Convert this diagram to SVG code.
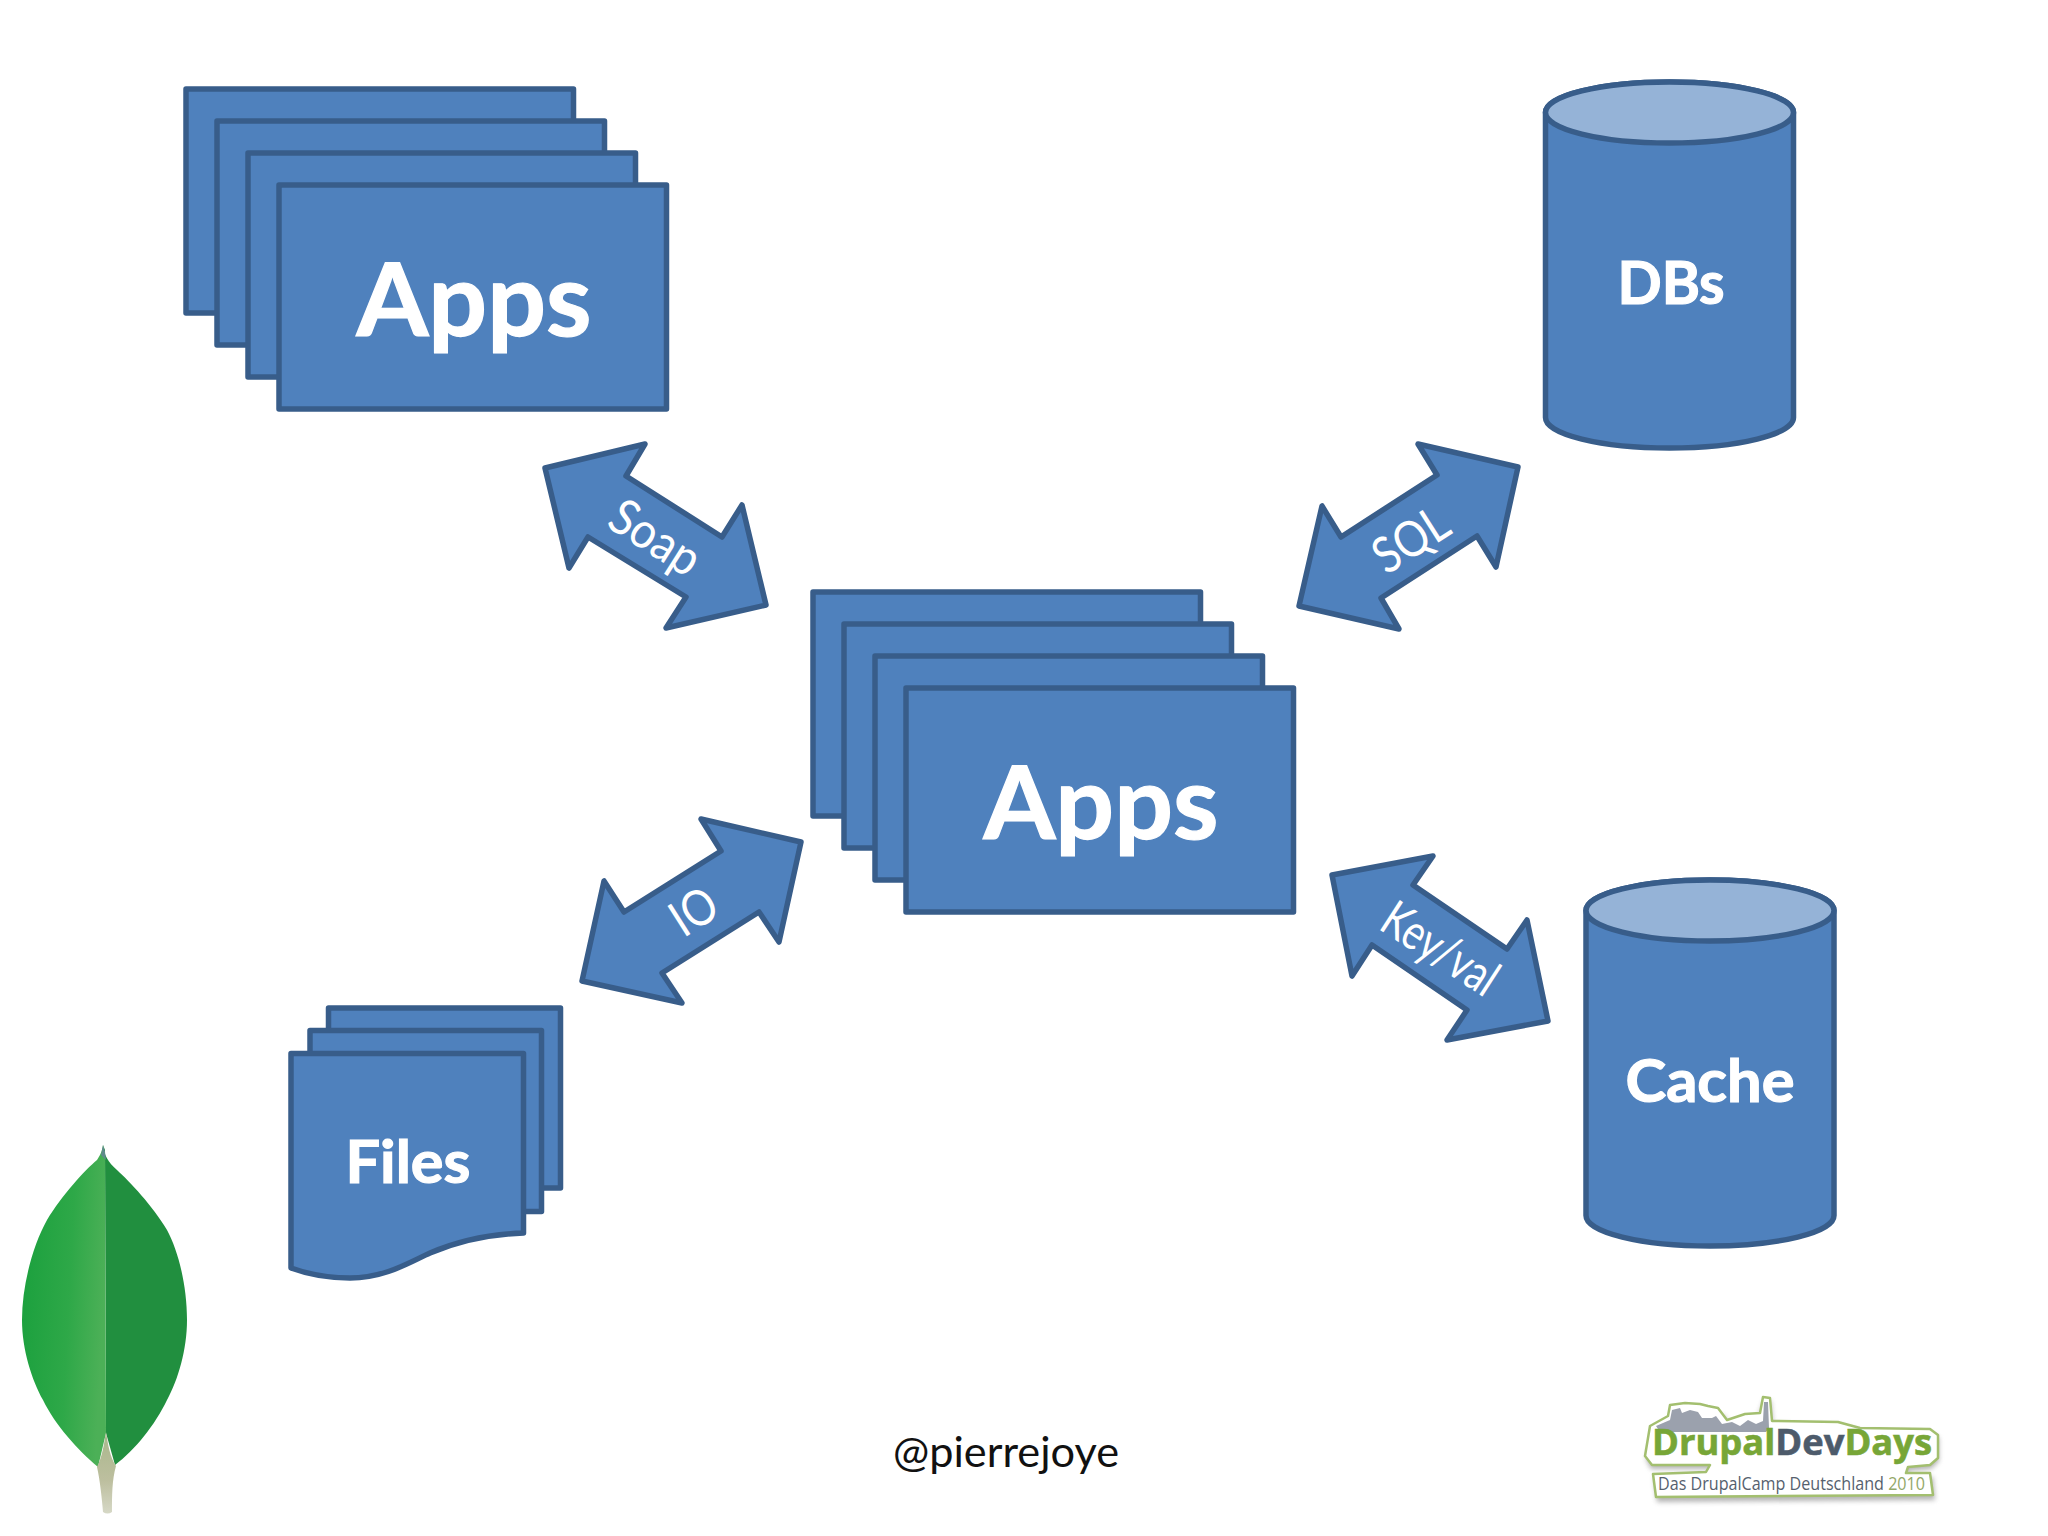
<svg xmlns="http://www.w3.org/2000/svg" width="2048" height="1536" viewBox="0 0 2048 1536">
<style>
.s{fill:#4f81bd;stroke:#385d8a;stroke-width:5.5;stroke-linejoin:round}
.top{fill:#95b3d7;stroke:#385d8a;stroke-width:5.5}
.t{font-family:"Lato","Open Sans",sans-serif;fill:#fff;text-anchor:middle}
.b{font-weight:700;stroke:#fff;stroke-width:1.2}
.big{font-size:101px}
.mid{font-size:60px}
.lab{font-size:50px;font-weight:400}
.lg{font-family:"Open Sans","Noto Sans",sans-serif;font-weight:700;font-size:36px;stroke-width:0.6}
.ls{font-family:"Open Sans","Noto Sans",sans-serif;font-size:17.5px}
</style>
<defs>
<linearGradient id="leafL" x1="0" y1="0.15" x2="1" y2="0.35"><stop offset="0" stop-color="#1aa03d"/><stop offset="0.6" stop-color="#2ea848"/><stop offset="1" stop-color="#4cb057"/></linearGradient>
<linearGradient id="stem" x1="0" y1="0" x2="0" y2="1"><stop offset="0" stop-color="#a9b78b"/><stop offset="0.6" stop-color="#bdbf9f"/><stop offset="1" stop-color="#d6d8c6"/></linearGradient>
<filter id="blur" x="-10%" y="-20%" width="120%" height="140%"><feGaussianBlur stdDeviation="2.5"/></filter>
</defs>
<rect width="2048" height="1536" fill="#fff"/>

<g id="apps-top">
<rect class="s" x="186" y="89" width="387.5" height="224"/>
<rect class="s" x="217" y="121" width="387.5" height="224"/>
<rect class="s" x="248" y="153" width="387.5" height="224"/>
<rect class="s" x="279" y="185" width="387.5" height="224"/>
<text class="t b big" x="474" y="336" textLength="235" lengthAdjust="spacingAndGlyphs">Apps</text>
</g>

<g id="apps-center">
<rect class="s" x="813" y="592" width="387.5" height="224"/>
<rect class="s" x="844" y="624" width="387.5" height="224"/>
<rect class="s" x="875" y="656" width="387.5" height="224"/>
<rect class="s" x="906" y="688" width="387.5" height="224"/>
<text class="t b big" x="1101" y="839" textLength="235" lengthAdjust="spacingAndGlyphs">Apps</text>
</g>

<g id="dbs">
<path class="s" d="M1545.5 112.5A124 30.5 0 0 1 1793.5 112.5V417.5A124 30.5 0 0 1 1545.5 417.5Z"/>
<ellipse class="top" cx="1669.5" cy="112.5" rx="124" ry="30.5"/>
<text class="t b mid" x="1671" y="304" textLength="107" lengthAdjust="spacingAndGlyphs">DBs</text>
</g>

<g id="cache">
<path class="s" d="M1586 910.5A124 30.5 0 0 1 1834 910.5V1215.5A124 30.5 0 0 1 1586 1215.5Z"/>
<ellipse class="top" cx="1710" cy="910.5" rx="124" ry="30.5"/>
<text class="t b mid" x="1710" y="1102" textLength="169" lengthAdjust="spacingAndGlyphs">Cache</text>
</g>

<g id="files">
<rect class="s" x="328.5" y="1008" width="232" height="180"/>
<rect class="s" x="310" y="1030.5" width="231.5" height="181"/>
<path class="s" d="M291 1053.5H523.5V1233C495 1234 465 1238 430 1253C410 1262 385 1278 350 1278C330 1278 310 1275 291 1268Z"/>
<text class="t b mid" x="408" y="1183" textLength="125" lengthAdjust="spacingAndGlyphs">Files</text>
</g>

<g id="connectors">
<g id="soap">
<polygon class="s" points="545,468 645,444 626,476 722,537 742,505 766,605 666,628 686,597 588,537 569,568"/>
<text class="t lab" transform="translate(646 552) rotate(32.5)" textLength="98" lengthAdjust="spacingAndGlyphs">Soap</text>
</g>
<g id="sql">
<polygon class="s" points="1518,467 1418,444 1437,475 1341,537 1322,506 1299,606 1399,629 1381,598 1477,536 1496,567"/>
<text class="t lab" transform="translate(1420 554) rotate(-32.5)" textLength="80" lengthAdjust="spacingAndGlyphs">SQL</text>
</g>
<g id="io">
<polygon class="s" points="801,842 701,819 721,851 624,912 604,881 582,981 682,1003 662,973 759,912 779,942"/>
<text class="t lab" transform="translate(703 926) rotate(-32.5)" textLength="46" lengthAdjust="spacingAndGlyphs">IO</text>
</g>
<g id="keyval">
<polygon class="s" points="1332,875 1433,856 1413,885 1507,949 1527,920 1548,1021 1447,1040 1467,1010 1372,945 1352,976"/>
<text class="t lab" transform="translate(1431 963) rotate(33)" textLength="128" lengthAdjust="spacingAndGlyphs">Key/val</text>
</g>
</g>

<text id="credit" x="1006" y="1467" text-anchor="middle" font-family="Lato,'Open Sans',sans-serif" font-size="43" fill="#111" textLength="226" lengthAdjust="spacingAndGlyphs">@pierrejoye</text>

<g id="leaf">
<path d="M103 1145C104 1155 108 1162 117 1170C130 1182 152 1205 167 1230C178 1250 187 1285 187 1320C187 1350 178 1380 167 1400C155 1425 135 1450 115 1465L106 1433L105 1150Z" fill="#218f3f"/>
<path d="M103 1145C102 1152 100 1155 97 1160C85 1170 62 1195 47 1220C33 1245 22 1285 22 1320C22 1350 32 1380 43 1400C55 1425 78 1450 98 1467L106 1433L105 1157Z" fill="url(#leafL)"/>
<path d="M103 1145L101 1155L106 1160L105 1152Z" fill="#5f8a8c"/>
<path d="M106 1432C104 1445 102 1457 97 1467C100 1480 102 1500 103 1512C106 1514 109 1514 112 1512C112 1495 112 1480 116 1466C110 1457 108 1445 106 1432Z" fill="url(#stem)"/>
</g>

<g id="logo">
<path d="M1650 1440L1668 1420L1672 1412L1684 1407L1700 1408L1708 1412L1722 1412L1730 1422L1745 1416L1757 1414L1763 1397L1770 1398L1772 1421L1838 1422L1860 1428L1930 1430L1938 1435L1938 1458L1930 1466L1908 1468L1906 1474L1932 1474L1934 1497L1656 1499L1653 1474L1706 1472L1710 1466L1650 1466L1645 1456Z" fill="#777" opacity="0.55" filter="url(#blur)" transform="translate(1 3)"/>
<path d="M1650 1426L1668 1416L1670 1405L1685 1403L1700 1404L1708 1406L1718 1408L1727 1420L1745 1414L1760 1413L1763 1397L1770 1398L1772 1421L1838 1422L1860 1428L1930 1429L1938 1435L1938 1458L1930 1465L1908 1467L1906 1473L1930 1473L1933 1495L1656 1497L1653 1474L1706 1472L1710 1465L1652 1465L1645 1456Z" fill="#fff" stroke="#a3bf6f" stroke-width="2.5" stroke-linejoin="round"/>
<path d="M1656 1426L1670 1420L1672 1410L1680 1408L1682 1413L1690 1410L1698 1412L1702 1418L1712 1418L1716 1416L1722 1424L1732 1422L1740 1426L1748 1420L1756 1424L1763 1421L1764 1402L1768 1402L1769 1428L1766 1432L1660 1432Z" fill="#9ba1ad"/>
<text class="lg" x="1652" y="1455" textLength="280" lengthAdjust="spacingAndGlyphs"><tspan fill="#77a637" stroke="#77a637">Drupal</tspan><tspan fill="#4d5b6b" stroke="#4d5b6b">Dev</tspan><tspan fill="#77a637" stroke="#77a637">Days</tspan></text>
<text class="ls" x="1658" y="1490" fill="#56616e" textLength="267" lengthAdjust="spacingAndGlyphs">Das DrupalCamp Deutschland <tspan fill="#93a868">2010</tspan></text>
</g>
</svg>
